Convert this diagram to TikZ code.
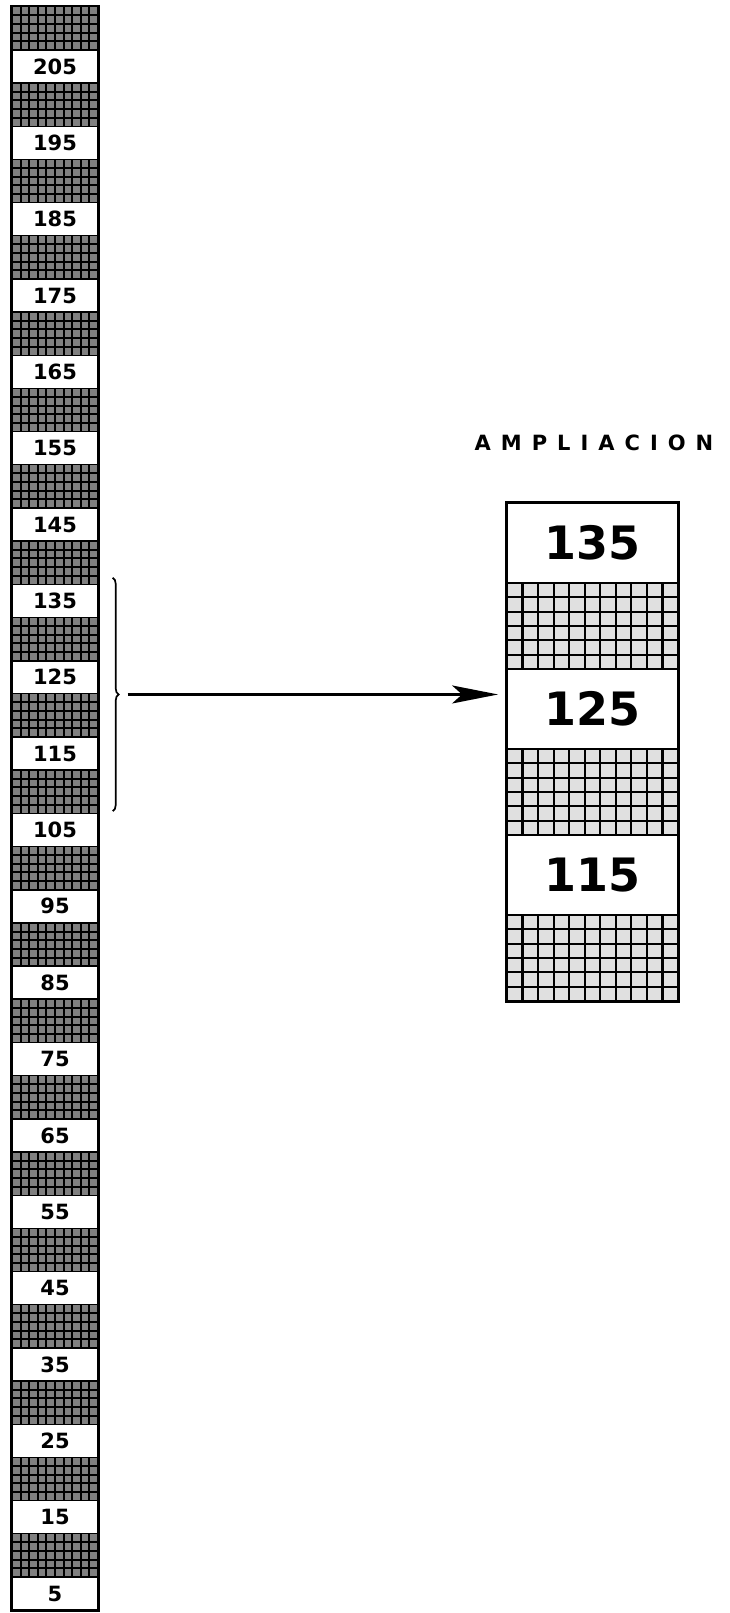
\documentclass[tikz,border=0pt]{standalone}
\usepackage{fontspec}
\newfontfamily\dvsans{DejaVu Sans}
\usepackage{tikz}
\usetikzlibrary{arrows.meta,calc,decorations.pathreplacing}

\begin{document}
\begin{tikzpicture}[
    x=1pt, y=-1pt,
    gridlines/.style n args={3}{path picture={
        \foreach \i in {1,...,#1}
          \draw[line width=#3]
            ($(path picture bounding box.north west)!{\i/(#1+1)}!(path picture bounding box.north east)$) --
            ($(path picture bounding box.south west)!{\i/(#1+1)}!(path picture bounding box.south east)$);
        \foreach \i in {1,...,#2}
          \draw[line width=#3]
            ($(path picture bounding box.north west)!{\i/(#2+1)}!(path picture bounding box.south west)$) --
            ($(path picture bounding box.north east)!{\i/(#2+1)}!(path picture bounding box.south east)$);
      }},
    colhatch/.style={rectangle, draw, line width=1.4pt, fill=black!50, inner sep=0pt,
                     minimum width=86pt, minimum height=43.35pt, gridlines={9}{4}{2pt}},
    colcell/.style={rectangle, draw, line width=1.4pt, fill=white, inner sep=0pt,
                    minimum width=86pt, minimum height=33pt,
                    font=\dvsans\bfseries\fontsize{21}{21}\selectfont},
    bigcell/.style={rectangle, draw, line width=1.8pt, fill=white, inner sep=0pt,
                    minimum width=171pt, minimum height=80pt,
                    font=\dvsans\bfseries\fontsize{46}{46}\selectfont},
    biggrid/.style={rectangle, draw, line width=1.8pt, fill=black!12, inner sep=0pt,
                    minimum width=171pt, minimum height=86pt, gridlines={10}{5}{2.2pt}},
    arrow/.style={-{Stealth[length=46pt, width=18pt, inset=10pt]}, line width=2.4pt}
  ]
    \useasboundingbox (0,0) rectangle (730,1613);

    \foreach \k in {0,...,20}{
      \pgfmathtruncatemacro{\lab}{205-10*\k}
      \node[colhatch] (h\lab) at (55, {28.3+76.35*\k}) {};
      \node[colcell]  (c\lab) at (55, {66.5+76.35*\k}) {\lab};
    }
    \draw[line width=2.4pt] (h205.north west) rectangle (c5.south east);

    \node[font=\dvsans\bfseries\fontsize{21}{21}\selectfont] (title) at (594, 443)
      {A\kern10pt M\kern10pt P\kern10pt L\kern10pt I\kern10pt A\kern10pt C\kern10pt I\kern10pt O\kern10pt N};

    \foreach \lab [count=\j from 0] in {135,125,115}{
      \node[bigcell] (r\lab) at (592.5, {543+166*\j}) {\lab};
      \node[biggrid] (g\lab) at (592.5, {626+166*\j}) {};
    }
    \draw[line width=2.4pt] (r135.north west) rectangle (g115.south east);

    \coordinate (btop) at ([xshift=14pt, yshift=6pt]c135.north east);
    \coordinate (bbot) at ([xshift=14pt, yshift=3pt]h105.south east);
    \draw[line width=1.7pt, decorate, decoration={brace, amplitude=6pt}] (btop) -- (bbot);
    \coordinate (tip) at ($(btop)!0.5!(bbot)+(6pt,0pt)$);

    \draw[arrow, shorten <=9pt, shorten >=8pt] (tip) -- (tip -| r125.west);
  \end{tikzpicture}
\end{document}
